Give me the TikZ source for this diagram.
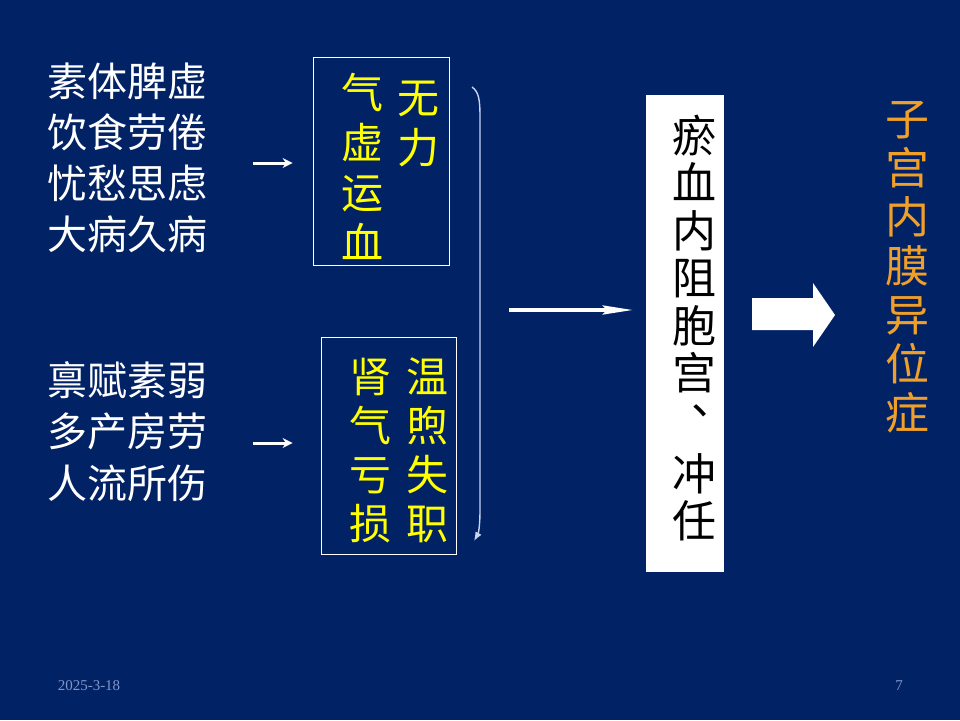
\documentclass[tikz,border=0pt]{standalone}
\usepackage{fontspec}
\usetikzlibrary{arrows.meta,positioning}
\setmainfont{Liberation Serif}
\newfontfamily\cjk{Noto Sans CJK SC}
\definecolor{slidebg}{RGB}{2,34,102}
\definecolor{hanyellow}{RGB}{255,255,0}
\definecolor{hanorange}{RGB}{240,160,40}
\definecolor{bracketblue}{RGB}{200,212,240}
\definecolor{footgray}{RGB}{130,150,200}
\tikzstyle{cause} = [anchor=base west, inner sep=0, text=white, font=\cjk\fontsize{40}{40}\selectfont]
\tikzstyle{ychar} = [anchor=base, inner sep=0, text=hanyellow, font=\cjk\fontsize{42}{42}\selectfont]
\tikzstyle{bchar} = [anchor=base, inner sep=0, text=black, font=\cjk\fontsize{44}{44}\selectfont]
\tikzstyle{ochar} = [anchor=base, inner sep=0, text=hanorange, font=\cjk\fontsize{44}{44}\selectfont]
\tikzstyle{causebox} = [draw=white, line width=0.8pt, inner sep=0, rectangle]
\tikzstyle{arrow} = [white, line width=3pt, -{Stealth[length=10pt,width=10pt]}]
\tikzstyle{midarrow} = [white, line width=3.5pt, -{Stealth[length=30pt,width=9pt,inset=4pt]}]
\tikzstyle{bracket} = [bracketblue, line width=1.4pt, -{Latex[length=9pt,width=7pt]}]

\begin{document}
\begin{tikzpicture}[x=1pt,y=-1pt]
      \fill[slidebg] (0,0) rectangle (960,720);
      % causes
      \foreach \t [count=\i] in {素体脾虚,饮食劳倦,忧愁思虑,大病久病}
        \node[cause] (c\i) at (47,{81+51*(\i-1)+15}) {\t};
      \foreach \t [count=\i] in {禀赋素弱,多产房劳,人流所伤}
        \node[cause] (k\i) at (47,{380+51.5*(\i-1)+15}) {\t};
      % boxes
      \node[causebox, minimum width=136, minimum height=208] (box1) at (381,161) {};
      \node[causebox, minimum width=135, minimum height=217] (box2) at (388.5,445.5) {};
      \foreach \c [count=\i] in {气,虚,运,血}
        \node[ychar] (qx\i) at (362,{92+50*(\i-1)+16}) {\c};
      \foreach \c [count=\i] in {无,力}
        \node[ychar] (wl\i) at (418,{97+50*(\i-1)+16}) {\c};
      \foreach \c [count=\i] in {肾,气,亏,损}
        \node[ychar] (sq\i) at (370,{376+49*(\i-1)+16}) {\c};
      \foreach \c [count=\i] in {温,煦,失,职}
        \node[ychar] (wx\i) at (427,{376+49*(\i-1)+16}) {\c};
      \coordinate (a1) at (253,163);
      \coordinate (a2) at (253,443);
      \draw[arrow, shorten >=20pt] (a1) -- (a1 -| box1.west);
      \draw[arrow, shorten >=28pt] (a2) -- (a2 -| box2.west);
      % bracket
      \coordinate (brtop) at (472,87);
      \coordinate (brbot) at (474,541);
      \draw[bracket] (brtop) .. controls (479,92) and (480,100) .. (480,118) -- (480,510) .. controls (480,528) and (478,534) .. (brbot);
      % stasis
      \node[fill=white, minimum width=78, minimum height=477, inner sep=0] (stasis) at (685,333.5) {};
      \foreach \c [count=\i] in {瘀,血,内,阻,胞,宫}
        \node[bchar] (yx\i) at (694,{135+47.5*(\i-1)+17}) {\c};
      \node[bchar, anchor=base west, text height=13pt, text depth=1pt] (dun) at (691,414) {、};
      \node[bchar] (ch1) at (694,490) {冲};
      \node[bchar] (ch2) at (694,537) {任};
      \coordinate (join) at (509,310);
      \draw[midarrow, shorten >=13pt] (join) -- (join -| stasis.west);
      \fill[white] (752,298) -- (813,298) -- (813,283) -- (835,315) -- (813,347) -- (813,330) -- (752,330) -- cycle;
      % result
      \foreach \c [count=\i] in {子,宫,内,膜,异,位,症}
        \node[ochar] (zg\i) at (907,{118+49*(\i-1)+17}) {\c};
      % footer
      \node[font=\fontsize{15}{15}\selectfont, text=footgray] (date) at (89,686) {2025-3-18};
      \node[font=\fontsize{15}{15}\selectfont, text=footgray] (pg) at (899,686) {7};
      \end{tikzpicture}
\end{document}
